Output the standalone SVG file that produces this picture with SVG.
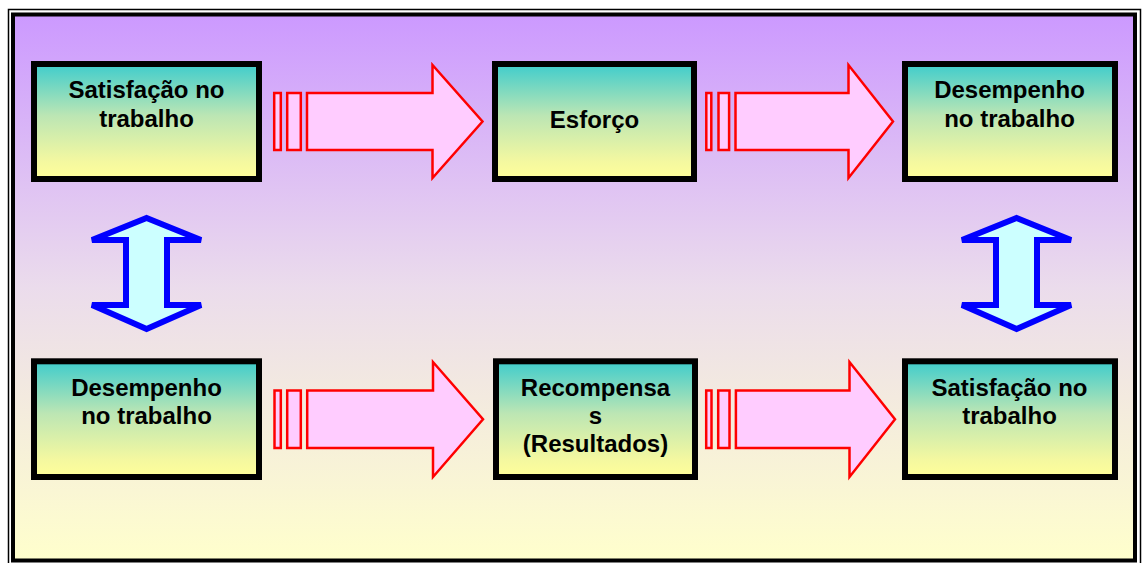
<svg xmlns="http://www.w3.org/2000/svg" width="1144" height="563" viewBox="0 0 1144 563">
<defs>
<linearGradient id="bg" x1="0" y1="0" x2="0" y2="1">
<stop offset="0" stop-color="#cc99ff"/>
<stop offset="0.5" stop-color="#ebdcec"/>
<stop offset="1" stop-color="#ffffcc"/>
</linearGradient>
<linearGradient id="boxg" x1="0" y1="0" x2="0" y2="1">
<stop offset="0" stop-color="#3fcccc"/>
<stop offset="0.45" stop-color="#bce6b4"/>
<stop offset="0.85" stop-color="#f4f8a0"/>
<stop offset="1" stop-color="#ffff99"/>
</linearGradient>
<style>
.box{fill:url(#boxg);stroke:#000;stroke-width:6}
.lbl{font-family:"Liberation Sans",Arial,sans-serif;font-weight:bold;font-size:24px;fill:#000;text-anchor:middle}
.red{fill:#ffccff;stroke:#ff0000;stroke-width:2.5}
.blue{fill:#ccffff;stroke:#0000ff;stroke-width:6}
</style>
</defs>
<rect x="0" y="0" width="1144" height="563" fill="#ffffff"/>
<rect x="8.5" y="9.5" width="1132" height="560" fill="none" stroke="#000" stroke-width="1.5"/>
<rect x="13" y="14.5" width="1122" height="546" fill="url(#bg)" stroke="#000" stroke-width="4"/>

<g id="connectors">
<g id="arrow-top-1">
<rect class="red" x="274.2" y="93" width="6.6" height="57"/>
<rect class="red" x="287.2" y="93" width="13.6" height="57"/>
<polygon class="red" points="307,93 432.5,93 432.5,65 482.5,121.5 432.5,178 432.5,150 307,150"/>
</g>
<g id="arrow-top-2">
<rect class="red" x="706.3" y="93" width="5" height="57"/>
<rect class="red" x="718.5" y="93" width="10.6" height="57"/>
<polygon class="red" points="735.5,93 848.5,93 848.5,65 893,121.5 848.5,178 848.5,150 735.5,150"/>
</g>
<g id="arrow-bottom-1">
<rect class="red" x="274.5" y="390.5" width="6.3" height="57.5"/>
<rect class="red" x="287.2" y="390.5" width="13.6" height="57.5"/>
<polygon class="red" points="307.2,390.5 433,390.5 433,362 483,419.3 433,477 433,448 307.2,448"/>
</g>
<g id="arrow-bottom-2">
<rect class="red" x="706.2" y="390.5" width="5.3" height="57.5"/>
<rect class="red" x="718.2" y="390.5" width="11.3" height="57.5"/>
<polygon class="red" points="735.9,390.5 849.5,390.5 849.5,362 895,419.3 849.5,477 849.5,448 735.9,448"/>
</g>
<g id="arrow-left-double">
<polygon class="blue" points="146.6,218 201,240 167,240 167,305 201,305 146.6,329 92,305 126,305 126,240 92,240"/>
</g>
<g id="arrow-right-double">
<polygon class="blue" points="1016.6,218 1071,240 1037,240 1037,305 1071,305 1016.6,329 962,305 996,305 996,240 962,240"/>
</g>
</g>

<g id="node-satisfacao-1">
<rect class="box" x="34" y="64" width="225" height="115"/>
<text class="lbl" x="146.5" y="98">Satisfação no</text>
<text class="lbl" x="146.5" y="127">trabalho</text>
</g>
<g id="node-esforco">
<rect class="box" x="495" y="64" width="199" height="115"/>
<text class="lbl" x="594.5" y="128">Esforço</text>
</g>
<g id="node-desempenho-1">
<rect class="box" x="905" y="64" width="210" height="115"/>
<text class="lbl" x="1009.5" y="98">Desempenho</text>
<text class="lbl" x="1009.5" y="127">no trabalho</text>
</g>
<g id="node-desempenho-2">
<rect class="box" x="34" y="361.3" width="225" height="115.7"/>
<text class="lbl" x="146.5" y="396">Desempenho</text>
<text class="lbl" x="146.5" y="424">no trabalho</text>
</g>
<g id="node-recompensas">
<rect class="box" x="496" y="361.3" width="199" height="115.7"/>
<text class="lbl" x="595.5" y="396">Recompensa</text>
<text class="lbl" x="595.5" y="424">s</text>
<text class="lbl" x="595.5" y="452">(Resultados)</text>
</g>
<g id="node-satisfacao-2">
<rect class="box" x="905" y="361.3" width="210" height="115.7"/>
<text class="lbl" x="1009.5" y="396">Satisfação no</text>
<text class="lbl" x="1009.5" y="424">trabalho</text>
</g>
</svg>
